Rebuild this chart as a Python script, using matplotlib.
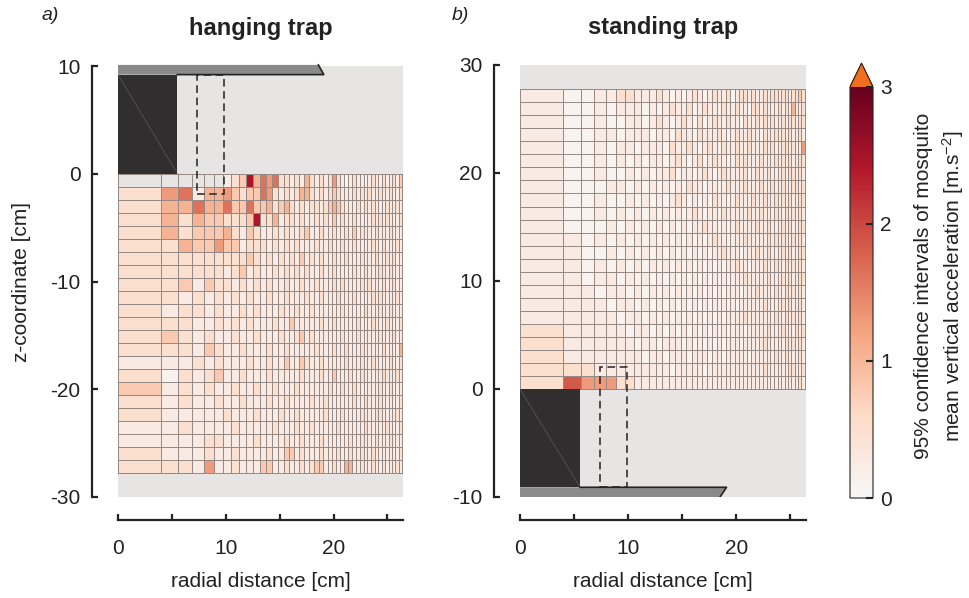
import numpy as np
import matplotlib
matplotlib.use('Agg')
import matplotlib.pyplot as plt
from matplotlib.colors import LinearSegmentedColormap, Normalize
from matplotlib.patches import Rectangle, Polygon

plt.rcParams['font.family'] = ['Liberation Sans', 'DejaVu Sans']
plt.rcParams['axes.unicode_minus'] = False
plt.rcParams['mathtext.fontset'] = 'custom'
plt.rcParams['mathtext.rm'] = 'Liberation Sans'
plt.rcParams['mathtext.it'] = 'Liberation Sans:italic'

# one character per radial bin, '-' = no data; codes give the CI width in m/s^2
CODE_VALUES = {'0': 0.1, '1': 0.25, '2': 0.5, '3': 0.8, '4': 1.05, '5': 1.3,
               '6': 1.65, '7': 1.85, '8': 2.05, '9': 2.25, 'a': 2.45}

# hanging trap, rows from z = 0 downwards
hanging_rows = [
    "----- -123a 46562 21214 21212 52101 21101 21121 12132",
    "25614 45323 36521 21244 21212 32111 21212 11211 21121",
    "24464 46336 33423 42121 22123 43211 12121 21112 11212",
    "24243 32223 a2241 22121 12121 31211 21111 21212 11121",
    "24233 34213 21121 21123 11211 21121 31211 12111 21112",
    "22433 53312 22121 21211 12112 11211 21111 21121 11211",
    "22222 22223 21212 12131 21211 21121 11211 12112 12111",
    "22222 21231 21121 21212 11211 21111 21121 11211 21112",
    "22313 22121 21211 21121 12111 21211 11212 11121 12111",
    "22121 21212 11211 21112 11211 12111 21111 21211 11211",
    "21221 21121 21112 11211 21111 11211 11121 11211 21111",
    "22211 21212 11121 13111 11211 21111 12111 21112 11121",
    "23212 11211 21112 11231 21111 11211 12111 11211 12111",
    "22213 21121 11211 21111 12111 21121 11211 11121 11141",
    "11121 21112 11211 31132 11211 11121 11211 21111 21121",
    "20212 31121 11211 11121 11211 31112 11211 11121 11211",
    "31212 11211 21121 11211 11112 11211 21111 11211 21111",
    "21211 21121 11211 21111 21121 11111 21121 11211 11121",
    "21111 12111 21112 11211 11121 11211 11211 12211 11211",
    "11211 11211 11121 11211 21111 12111 11121 11112 11121",
    "11112 21111 21111 21121 11211 11112 11211 12111 21112",
    "21112 11211 11211 33121 11211 12112 11211 21111 11121",
    "22215 11211 13311 21121 23311 21144 11211 21121 11211",
]

# standing trap, rows from the top of the grid down to z = 0
standing_rows = [
    "10011 22111 21010 12101 21120 12212 11212 21221 22325",
    "10010 11101 01211 20121 10211 21102 21211 12121 41122",
    "10010 01101 21012 10201 21121 10211 21212 11212 21221",
    "10011 01110 11021 10211 12101 21121 10211 21212 11212",
    "10010 11011 10211 21012 10211 21121 11212 11221 21151",
    "10010 10101 10121 01201 21101 21211 12111 21212 11222",
    "10010 01010 11201 10121 01211 11201 21121 11212 21212",
    "10001 10101 01010 21101 10121 11211 12112 11211 22121",
    "10010 01010 10121 01010 21101 21112 11211 21212 11222",
    "10010 10101 01010 12101 10211 11121 12111 21121 21212",
    "10001 01010 10101 01121 10101 21111 21121 11212 11222",
    "11010 10101 01010 10101 21101 11211 11121 21211 21212",
    "11001 01010 10101 01010 11211 10111 21121 11212 11221",
    "11010 10101 01010 10101 01011 21101 11211 21121 21212",
    "11011 01010 10101 01010 10101 11211 11121 11212 11222",
    "11101 10101 01010 10101 01011 10111 21111 21121 21212",
    "11110 11010 10101 01010 10101 01111 11211 11212 11212",
    "11111 01101 01010 10101 01011 11211 11111 21121 21212",
    "21111 10110 10101 01010 10101 11011 11121 11211 12122",
    "21111 11011 01110 10101 01011 10111 11211 11121 21212",
    "21111 11101 10111 01110 11011 11101 11111 21121 11212",
    "22211 11111 11011 11101 11111 11111 11211 11112 21121",
    "27555 22111 11111 11111 11111 11111 11111 11111 11211",
]

cbar_ticks = [0, 1, 2, 3]
x_ticks = [0, 5, 10, 15, 20, 25]
x_ticklabels = ['0', '', '10', '', '20', '']


def decode(rows):
    out = []
    for row in rows:
        s = row.replace(' ', '')
        out.append([np.nan if c == '-' else CODE_VALUES[c] for c in s])
    return np.ma.masked_invalid(np.array(out))


hang = decode(hanging_rows)
stand = decode(standing_rows)

# equal-area annular bins, fixed height rows
n_r = hang.shape[1]
r_edges = 3.97 * np.sqrt(np.arange(n_r + 1))
row_h = 1.207
hang_z = -row_h * np.arange(hang.shape[0] + 1)
stand_z = row_h * np.arange(stand.shape[0] + 1)[::-1]

cmap = LinearSegmentedColormap.from_list('ci', [
    (0.0, '#f7f7f7'), (0.2, '#fddbc7'), (0.4, '#f4a582'),
    (0.6, '#d6604d'), (0.8, '#b2182b'), (1.0, '#67001f')])
cmap.set_over('#f36d21')
norm = Normalize(0, 3)

ink = '#222222'
body = '#312e2f'
lid = '#8a8a8a'
fs = 15

fig = plt.figure(figsize=(9.7, 5.98), dpi=100)
ax1 = fig.add_axes([118 / 970, 1 - 497 / 598, 285 / 970, 431 / 598])
ax2 = fig.add_axes([520 / 970, 1 - 497 / 598, 286 / 970, 432 / 598])
cax = fig.add_axes([850 / 970, 1 - 498 / 598, 23 / 970, 435 / 598])


def style(ax, ylim, yticks):
    ax.set_facecolor('#e6e5e4')
    ax.set_xlim(0, 26.45)
    ax.set_ylim(*ylim)
    for s in ['top', 'right']:
        ax.spines[s].set_visible(False)
    ax.spines['left'].set_position(('outward', 19))
    ax.spines['bottom'].set_position(('outward', 16.5))
    for s in ['left', 'bottom']:
        ax.spines[s].set_linewidth(1.6)
        ax.spines[s].set_color(ink)
    ax.tick_params(direction='in', length=4, width=1.6, labelsize=fs,
                   color=ink, labelcolor=ink)
    ax.tick_params(axis='x', pad=14)
    ax.tick_params(axis='y', pad=8)
    ax.set_xticks(x_ticks)
    ax.set_xticklabels(x_ticklabels)
    ax.set_yticks(yticks)
    ax.set_xlabel('radial distance [cm]', fontsize=fs, color=ink, labelpad=10)


mesh = ax1.pcolormesh(r_edges, hang_z, hang, cmap=cmap, norm=norm,
                      edgecolors='#968a87', linewidth=0.5)
ax2.pcolormesh(r_edges, stand_z, stand, cmap=cmap, norm=norm,
               edgecolors='#968a87', linewidth=0.5)

style(ax1, (-30, 10), [-30, -20, -10, 0, 10])
style(ax2, (-10, 30), [-10, 0, 10, 20, 30])
ax1.set_ylabel('z-coordinate [cm]', fontsize=fs, color=ink, labelpad=14)

# hanging trap geometry
ax1.add_patch(Rectangle((0, 0), 5.5, 9.2, fc=body, ec='none', zorder=3))
ax1.plot([0, 5.5], [9.2, 0], color='#5c595a', lw=0.5, zorder=4)
ax1.add_patch(Polygon([(0, 10.1), (18.6, 10.1), (19.1, 9.2), (0, 9.2)],
                      closed=True, fc=lid, ec='none', zorder=3, clip_on=False))
ax1.plot([5.5, 19.1, 18.6], [9.2, 9.2, 10.1], color=ink, lw=1.2, zorder=4,
         clip_on=False)
ax1.add_patch(Rectangle((7.3, -1.9), 2.5, 11.1, fill=False, ec=ink,
                        ls=(0, (5, 3)), lw=1.1, zorder=5))

# standing trap geometry
ax2.add_patch(Rectangle((0, -9.1), 5.55, 9.1, fc=body, ec='none', zorder=3))
ax2.plot([0, 5.55], [0, -9.1], color='#5c595a', lw=0.5, zorder=4)
ax2.add_patch(Polygon([(0, -9.1), (19.1, -9.1), (18.5, -10), (0, -10)],
                      closed=True, fc=lid, ec='none', zorder=3))
ax2.plot([5.55, 19.1, 18.5], [-9.1, -9.1, -10], color=ink, lw=1.2, zorder=4)
ax2.add_patch(Rectangle((7.4, -9.1), 2.5, 11.15, fill=False, ec=ink,
                        ls=(0, (5, 3)), lw=1.1, zorder=5))

ax1.set_title('hanging trap', fontsize=17, fontweight='bold', color=ink, pad=22)
ax2.set_title('standing trap', fontsize=17, fontweight='bold', color=ink, pad=22)
fig.text(42 / 970, 1 - 15 / 598, 'a)', fontsize=14, style='italic', color=ink, va='center')
fig.text(452 / 970, 1 - 15 / 598, 'b)', fontsize=14, style='italic', color=ink, va='center')

cb = fig.colorbar(mesh, cax=cax, extend='max', extendfrac=0.058, ticks=cbar_ticks)
cb.outline.set_linewidth(0.8)
cb.outline.set_edgecolor(ink)
cb.ax.tick_params(direction='in', length=5, width=1.5, labelsize=fs,
                  color=ink, labelcolor=ink, pad=5)
fig.text(940 / 970, 1 - 286 / 598,
         '95% confidence intervals of mosquito\nmean vertical acceleration [m.s$^{-2}$]',
         rotation=90, ha='center', va='center', fontsize=fs, color=ink,
         linespacing=1.4, multialignment='center')

fig.savefig('out.png', dpi=100)
